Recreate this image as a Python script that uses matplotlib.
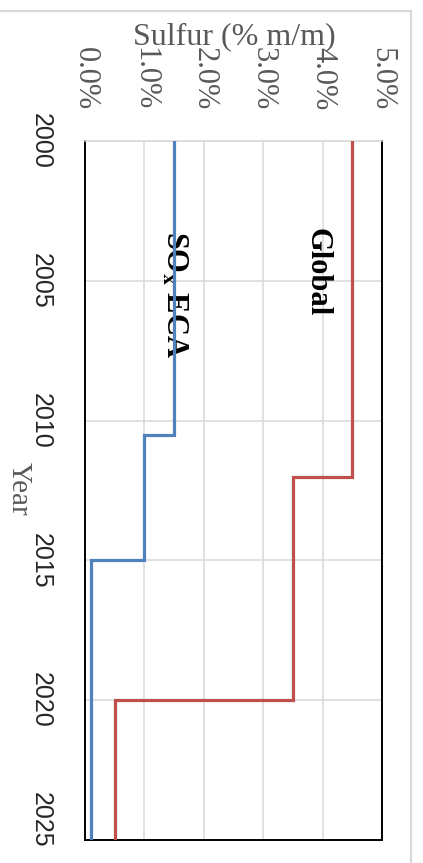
import numpy as np
import matplotlib
matplotlib.use("Agg")
import matplotlib.pyplot as plt
from matplotlib.lines import Line2D
from matplotlib.transforms import ScaledTranslation

plt.rcParams["mathtext.fontset"] = "stix"

# Sulfur limits for marine fuel (% m/m), stepped by year of entry into force
global_edges = [2000, 2012, 2020, 2025]
global_limits = [4.5, 3.5, 0.5]
eca_edges = [2000, 2010.5, 2015, 2025]
eca_limits = [1.5, 1.0, 0.1]

sulfur_ticks = [0, 1, 2, 3, 4, 5]
year_ticks = [2000, 2005, 2010, 2015, 2020, 2025]

RED = "#C0504D"
BLUE = "#4F81BD"
GRID = "#D9D9D9"
GREY_TXT = "#595959"


def step_path(edges, levels):
    ys = np.repeat(np.asarray(edges, float), 2)[1:-1]
    xs = np.repeat(np.asarray(levels, float), 2)
    return xs, ys


fig = plt.figure(figsize=(4.23, 8.63), dpi=100)
ax = fig.add_axes([85 / 423, 23 / 863, 297 / 423, 699 / 863])

ax.set_xlim(0, 5)
ax.set_ylim(2025, 2000)

ax.set_xticks(sulfur_ticks)
ax.set_xticklabels([f"{v:.1f}%" for v in sulfur_ticks], rotation=-90,
                   family="Liberation Serif", fontsize=22, color=GREY_TXT)
ax.set_yticks(year_ticks)
ax.set_yticklabels([str(y) for y in year_ticks], rotation=-90,
                   family="Liberation Sans", fontsize=18, color="#262626",
                   va="center")
ax.xaxis.tick_top()
ax.tick_params(axis="x", length=0, pad=22)
ax.tick_params(axis="y", length=0, pad=23)

# keep the last year label inside the figure
last = ax.get_yticklabels()[-1]
last.set_va("bottom")
last.set_transform(last.get_transform()
                   + ScaledTranslation(0, -0.08, fig.dpi_scale_trans))

ax.grid(True, color=GRID, linewidth=1.1)
ax.set_axisbelow(True)

for side in ("left", "right", "bottom"):
    ax.spines[side].set_color("black")
    ax.spines[side].set_linewidth(1.4)
ax.spines["top"].set_color(GRID)
ax.spines["top"].set_linewidth(1.1)

gx, gy = step_path(global_edges, global_limits)
ex, ey = step_path(eca_edges, eca_limits)
ax.plot(gx, gy, color=RED, linewidth=2.3, solid_joinstyle="miter", zorder=3)
ax.plot(ex, ey, color=BLUE, linewidth=2.3, solid_joinstyle="miter", zorder=3)

ax.text(3.90, 2004.7, "Global", rotation=-90, ha="center", va="center",
        family="Liberation Serif", fontweight="bold", fontsize=22,
        color="black", zorder=2.5)
ax.text(1.50, 2005.5, r"SO$_{\mathbf{x}}$ ECA", rotation=-90, ha="center",
        va="center", family="Liberation Serif", fontweight="bold",
        fontsize=22, color="black", zorder=2.5)

# Axis titles
fig.text(234 / 423, 1 - 37 / 863, "Sulfur (% m/m)", ha="center", va="center",
         family="Liberation Serif", fontsize=23, color=GREY_TXT)
fig.text(19 / 423, 1 - 489 / 863, "Year", rotation=-90, ha="center",
         va="center", family="Liberation Serif", fontsize=21, color=GREY_TXT)

# Chart area border
fig.add_artist(Line2D([0, 411 / 423], [1 - 11 / 863, 1 - 11 / 863],
                      transform=fig.transFigure, color=GRID, linewidth=1.5))
fig.add_artist(Line2D([411 / 423, 411 / 423], [0, 1 - 11 / 863],
                      transform=fig.transFigure, color=GRID, linewidth=1.5))

fig.savefig("out.png", dpi=100)
